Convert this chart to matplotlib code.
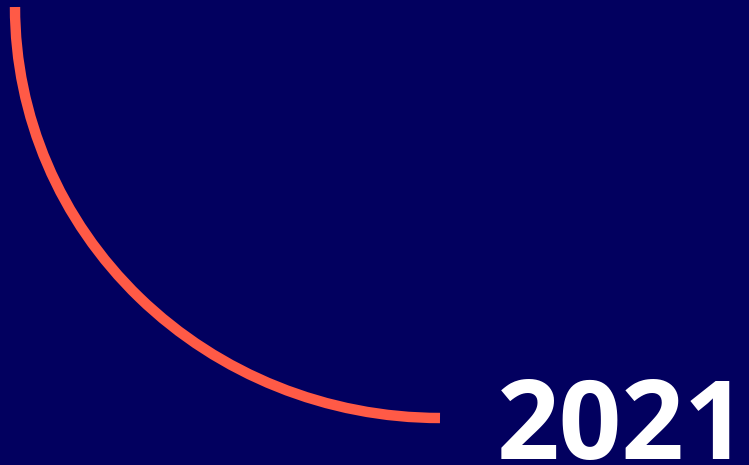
import matplotlib
matplotlib.use("Agg")
import matplotlib.pyplot as plt
from matplotlib.patches import Arc

# -----------------------------
# DATA
# -----------------------------
BG = "#02005F"
ARC_COLOR = "#FF5A46"
TEXT_COLOR = "#FFFFFF"

arc_center = (440, 7)       # pixel coords, y down
arc_radii = (425, 411)      # x radius, y radius
arc_angles = (90, 180)      # quarter, lower-left (y axis inverted)
year_label = "2021"
label_pos = (747, 459)

# -----------------------------
# PLOT
# -----------------------------
W, H = 749, 465
fig = plt.figure(figsize=(W / 100, H / 100), dpi=100)
fig.patch.set_facecolor(BG)
ax = fig.add_axes([0, 0, 1, 1])
ax.set_facecolor(BG)
ax.set_xlim(0, W)
ax.set_ylim(H, 0)
ax.axis("off")

arc = Arc(arc_center, 2 * arc_radii[0], 2 * arc_radii[1],
          theta1=arc_angles[0], theta2=arc_angles[1],
          color=ARC_COLOR, linewidth=7.5)
arc.set_capstyle("butt")
ax.add_patch(arc)

ax.text(label_pos[0], label_pos[1], year_label, color=TEXT_COLOR,
        fontsize=79, fontweight="bold", family="Open Sans",
        ha="right", va="baseline")

fig.savefig("out.png", dpi=100, facecolor=BG)
